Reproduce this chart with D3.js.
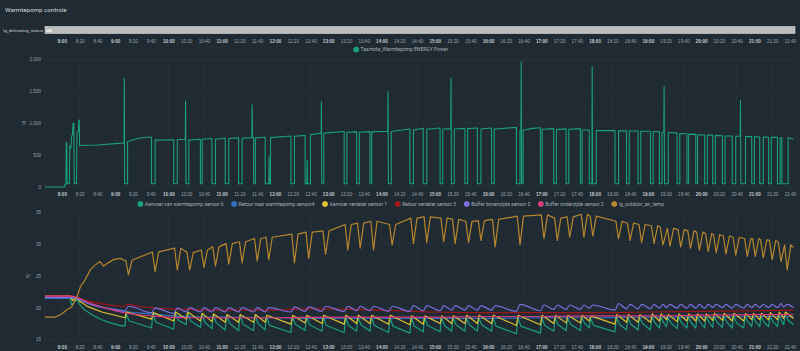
<!DOCTYPE html>
<html><head><meta charset="utf-8">
<script src="https://cdn.jsdelivr.net/npm/d3@7"></script>
<style>
body{margin:0;background:#1f2a32;}
svg{display:block;font-family:Roboto,"Noto Sans",sans-serif;}
</style></head>
<body><svg id="chart" width="800" height="351"></svg>
<script>
// ---------------- DATA ----------------
const timeTicks = ["8:00","8:20","8:40","9:00","9:20","9:40","10:00","10:20","10:40","11:00","11:20","11:40","12:00","12:20","12:40","13:00","13:20","13:40","14:00","14:20","14:40","15:00","15:20","15:40","16:00","16:20","16:40","17:00","17:20","17:40","18:00","18:20","18:40","19:00","19:20","19:40","20:00","20:20","20:40","21:00","21:20","21:40"];
const timeDomain = ["7:41","21:48"];
const powerTicks = [0,500,1000,1500,2000];
const tempTicks = [15,20,25,30,35];
const powerName = "Tasmota_Warmtepomp ENERGY Power";
const tempNames = ["Aanvoer van warmtepomp sensor 6","Retour naar warmtepomp sensor4","Aanvoer verdeler sensor 1","Retour verdeler sensor 3","Buffer bovenzijde sensor 5","Buffer onderzijde sensor 2","lg_outdoor_air_temp"];
const tempColors = ["#1a9f7f","#2f6fbd","#e0c02c","#a3151b","#7b6ee0","#d8397a","#b8862c"];

// power readings [time, W]
const power = [
["7:41",0],["8:03",0],["8:03.5",40],["8:04.5",40],["8:05",700],["8:05.5",700],["8:06",50],["8:08.5",50],["8:09",650],["8:10",600],["8:11",800],["8:12",820],["8:12.6",1000],["8:13.4",1000],["8:14",50],["8:16.5",50],["8:17",850],["8:18.6",870],["8:19",1050],["8:19.5",1050],["8:20",650],["8:40",660],["9:00",680],["9:10",690],["9:10.3",1700],["9:10.8",50],
["9:14",50],["9:14",710],["9:25",760],["9:35",780],["9:41",780],["9:41",50],["9:45",50],["9:45",735],["10:06",740],["10:06",50],["10:10",50],["10:10",745],["10:19",748],["10:19.3",1350],["10:19.8",50],["10:23",50],["10:23",735],["10:36",748],["10:36",50],["10:38",50],["10:38",750],["10:49",760],["10:49",50],["10:53",50],["10:53",750],["11:04",765],["11:04",50],["11:08",50],["11:08",760],["11:19",770],["11:19",50],["11:23",50],["11:23",765],["11:34",775],["11:34.3",1290],["11:34.8",775],["11:36",775],["11:36",50],["11:38",50],["11:38",770],["11:49",780],["11:49",50],["11:53",50],["11:53.3",475],["11:53.7",50],["11:55",50],["11:55",775],["12:18",800],["12:18",50],["12:22",50],["12:22",795],["12:34",810],["12:34",50],["12:36",50],["12:36.3",420],["12:36.7",50],["12:40",50],["12:40",820],["12:52",845],["12:52.3",1340],["12:52.7",50],["12:55",50],["12:55",845],["13:18",870],["13:18",50],["13:21",50],["13:21",860],["13:32",865],["13:32",50],["13:35",50],["13:35",860],["13:47",868],["13:47",50],["13:49",50],["13:49",865],["14:07",875],["14:07.3",1495],["14:07.8",50],["14:11",50],["14:11",870],["14:32",910],["14:32",50],["14:36",50],["14:36",895],["14:47",920],["14:47",50],["14:51",50],["14:51",905],["15:06",925],["15:06",50],["15:09",50],["15:09",910],["15:18",915],["15:18.3",1705],["15:18.8",50],["15:22",50],["15:22",910],["15:34",920],["15:34",50],["15:37",50],["15:37",915],["15:48",925],["15:48",50],["15:52",50],["15:52",910],["16:04",925],["16:04",50],["16:07",50],["16:07",910],["16:32",935],["16:32",50],["16:36",50],["16:36",880],["16:37",880],["16:37.3",1965],["16:37.8",50],["16:39.5",50],["16:39.5",890],["16:50",920],["16:59",930],["16:59",50],["17:01",50],["17:01",905],["17:14",915],["17:14",50],["17:17",50],["17:17",900],["17:28",912],["17:28",50],["17:31",50],["17:31",905],["17:44",915],["17:44",50],["17:46",50],["17:46",895],["17:54",895],["17:54",50],["17:57",50],["17:57.3",1890],["17:57.8",50],["18:02",50],["18:02",885],["18:23",885],["18:23",50],["18:27",50],["18:27",880],["18:36",880],["18:36",50],["18:39",50],["18:39",878],["18:49",878],["18:49",50],["18:52",50],["18:52",875],["19:03",875],["19:03",50],["19:06",50],["19:06",870],["19:13",865],["19:13",50],["19:16",50],["19:16",860],["19:18",860],["19:18.3",1575],["19:18.8",50],["19:23",50],["19:23",855],["19:33",845],["19:33",50],["19:36",50],["19:36",840],["19:44",835],["19:44",50],["19:46",50],["19:46",830],["19:54",825],["19:54",50],["19:56",50],["19:56",820],["20:04",815],["20:04",50],["20:07",50],["20:07",815],["20:13",810],["20:13",50],["20:16",50],["20:16",810],["20:24",805],["20:24",50],["20:27",50],["20:27",800],["20:35",800],["20:35",50],["20:39",50],["20:39",795],["20:44",795],["20:44.3",1355],["20:44.8",50],["20:50",50],["20:50",790],["20:57",790],["20:57",50],["21:00",50],["21:00",788],["21:06",785],["21:06",50],["21:10",50],["21:10",785],["21:16",780],["21:16",50],["21:19",50],["21:19",780],["21:26",778],["21:26",50],["21:29",50],["21:29",770],["21:31",770],["21:31",50],["21:38",50],["21:38",775],["21:44",750]
];

// temperature: times where the heat pump stops and the sensors jump
const cycleT = ["9:11","9:41","10:06","10:20","10:36","10:49","11:04","11:19","11:36","11:49","12:18","12:34","12:53","13:18","13:32","13:47","14:08","14:32","14:47","15:06","15:19","15:34","15:48","16:04","16:32","16:59","17:14","17:28","17:44","17:54","18:23","18:36","18:49","19:03","19:13","19:21","19:33","19:44","19:54","20:04","20:13","20:24","20:35","20:48","20:57","21:06","21:16","21:26","21:33"];

const greenPre = [["7:41",21.55],["8:09",21.55],["8:11",20.4],["8:14",20.8],["8:17",21.3],["8:20",20.5],["8:25",19.7],["8:35",18.8],["8:45",18.1],["8:55",17.6],["9:05",17.2]];
const greenLow = [17.1,16.8,16.6,17.3,16.9,16.7,16.5,16.4,16.4,16.5,16.1,16.4,16.3,16.1,16.3,16.3,16.1,16.0,16.2,16.2,16.3,16.3,16.3,16.3,15.9,16.0,16.3,16.4,16.4,16.8,16.2,16.5,16.5,16.5,16.8,17.0,16.7,16.8,16.8,16.8,16.9,16.9,16.8,16.8,17.0,17.0,17.0,17.0,17.3];
const greenPeak = [19.0,19.0,19.2,19.2,19.0,18.9,18.8,18.8,18.8,18.7,18.6,18.6,18.5,18.5,18.5,18.5,18.4,18.4,18.4,18.4,18.4,18.4,18.4,18.4,18.4,18.4,18.4,18.4,18.4,18.3,18.5,18.5,18.5,18.6,18.5,18.4,18.6,18.6,18.6,18.6,18.6,18.6,18.7,18.6,18.6,18.6,18.7,18.8,18.9];
const greenKnee = [17.9,17.7,18.0,17.9,17.7,17.6,17.5,17.4,17.5,17.2,17.4,17.3,17.2,17.2,17.3,17.2,17.1,17.1,17.2,17.2,17.3,17.3,17.3,17.1,17.1,17.2,17.3,17.4,17.5,17.2,17.4,17.4,17.5,17.6,17.6,17.6,17.6,17.6,17.7,17.7,17.7,17.7,17.6,17.7,17.7,17.7,17.8,17.8,18.0];
const greenEnd = [["21:44",17.3]];

const yellowPre = [["7:41",21.85],["8:09",21.85],["8:12",21.1],["8:17",21.6],["8:20",21.0],["8:30",20.1],["8:45",19.3],["9:00",18.8]];
const yellowLow = [18.4,18.2,17.9,18.2,17.9,17.8,17.7,17.7,17.7,17.7,17.4,17.6,17.5,17.4,17.5,17.5,17.4,17.3,17.4,17.5,17.5,17.5,17.5,17.5,17.2,17.3,17.5,17.6,17.6,17.9,17.4,17.7,17.7,17.7,17.9,18.1,17.8,17.9,17.9,17.9,18.0,18.0,17.9,17.9,18.1,18.1,18.1,18.1,18.3];
const yellowPeak = [19.3,19.2,19.3,19.3,19.1,19.0,18.9,18.9,18.9,18.8,18.8,18.8,18.8,18.8,18.8,18.8,18.8,18.7,18.7,18.7,18.7,18.8,18.8,18.8,18.8,18.8,18.8,18.8,18.8,18.7,18.9,18.9,18.9,19.0,19.0,18.9,19.0,19.0,19.0,19.0,19.1,19.1,19.1,19.1,19.1,19.1,19.2,19.3,19.3];
const yellowEnd = [["21:44",18.3]];

const purplePre = [["7:41",21.6],["8:10",21.6],["8:17",21.4],["8:30",20.6],["8:50",19.9],["9:05",19.6]];
const purpleLow = [19.5,19.2,19.1,19.3,19.3,19.3,19.3,19.3,19.3,19.3,19.3,19.4,19.4,19.4,19.5,19.5,19.4,19.4,19.5,19.5,19.6,19.6,19.6,19.6,19.4,19.5,19.7,19.7,19.7,19.9,19.6,19.8,19.8,19.8,19.9,20.0,19.9,19.9,19.9,19.9,20.0,20.0,19.9,19.9,20.0,20.0,20.0,20.0,20.1];
const purplePeak = [20.2,19.9,19.9,20.0,20.0,20.0,20.0,20.0,20.0,20.0,20.1,20.1,20.2,20.2,20.2,20.2,20.2,20.3,20.3,20.3,20.3,20.3,20.3,20.3,20.5,20.4,20.4,20.4,20.4,20.4,20.6,20.5,20.5,20.5,20.5,20.5,20.5,20.5,20.5,20.5,20.5,20.5,20.5,20.5,20.5,20.5,20.5,20.6,20.5];
const purpleEnd = [["21:44",20.0]];

const blueTemp = [["7:41",21.45],["8:10",21.45],["8:17",21.3],["8:30",20.7],["8:50",19.9],["9:10",19.4],["9:40",19.0],["10:20",18.6],["11:00",18.5],["12:00",18.4],["13:00",18.3],["14:00",18.3],["15:00",18.3],["16:00",18.3],["17:00",18.4],["18:00",18.4],["19:00",18.5],["20:00",18.5],["21:00",18.6],["21:44",18.6]];
const redTemp = [["7:41",21.8],["8:10",21.8],["8:17",21.5],["8:30",21.0],["8:50",20.5],["9:10",20.2],["9:15",20.5],["9:25",20.2],["9:40",20.0],["10:00",19.8],["10:20",19.7],["11:00",19.6],["12:00",19.6],["12:40",19.8],["13:30",19.7],["14:20",19.5],["15:00",19.3],["16:00",19.2],["17:00",19.2],["18:00",19.2],["19:00",19.3],["20:00",19.4],["21:00",19.5],["21:44",19.6]];
const pinkTemp = [["7:41",21.8],["8:10",21.8],["8:17",21.6],["8:30",20.8],["8:50",19.9],["9:10",19.2],["9:40",18.7],["10:20",18.4],["11:00",18.4],["12:00",18.4],["13:00",18.5],["14:00",18.5],["15:00",18.5],["16:00",18.6],["17:00",18.6],["18:00",18.7],["19:00",18.7],["20:00",18.8],["21:00",18.9],["21:44",18.9]];

const outdoorPre = [["7:41",18.5],["7:52",18.5],["7:57",18.8],["8:01",19.1],["8:05",19.6],["8:11",20.1],["8:14",20.9],["8:17",21.7],["8:21",23.3],["8:26",24.3],["8:32",25.9],["8:37",26.6],["8:43",27.2],["8:47",26.5],["8:51",26.9],["8:58",27.5],["9:06",27.7],["9:10",27.4]];
const outTop = [27.4,28.7,29.3,28.6,29.0,29.5,30.0,30.3,30.8,31.0,31.5,31.8,32.0,33.0,33.2,33.5,33.0,34.0,34.2,34.0,33.8,33.5,33.6,33.8,34.3,34.5,34.0,34.2,34.6,34.3,33.5,33.2,33.0,32.8,32.6,32.4,32.2,32.0,31.8,31.6,31.4,31.2,31.0,30.8,30.8,30.6,30.5,30.2,29.8];
const outBot = [25.1,25.6,25.9,25.9,26.3,26.5,26.8,27.0,27.3,27.5,27.0,27.7,28.3,29.0,29.3,29.0,29.8,30.0,30.2,30.3,30.0,30.2,30.5,29.5,29.8,30.8,30.5,31.0,31.0,31.2,30.8,30.5,30.2,30.0,29.8,29.6,29.5,29.3,29.0,28.8,28.6,28.4,28.2,28.0,28.0,27.8,27.5,27.2,25.9];
const outdoorEnd = [["21:44",29.4]];

// ---------------- DRAW ----------------
const toMin = s => { const p = s.split(":"); return +p[0]*60 + parseFloat(p[1]); };
const svg = d3.select("#chart");
const W = 800;
const L = 45, R = 797;
const x = d3.scaleLinear().domain(timeDomain.map(toMin)).range([L, R]);
const yP = d3.scaleLinear().domain([0,2000]).range([187,59.5]);
const yT = d3.scaleLinear().domain([15,35]).range([339.5,211.7]);
const nl = d3.formatLocale({decimal:",",thousands:".",grouping:[3],currency:["€",""]});
const fmtP = nl.format(",");
const textCol = "#9ba3aa", gridCol = "#2c3842";

svg.append("rect").attr("width",W).attr("height",351).attr("fill","#1f2a32");
svg.append("text").attr("x",5).attr("y",12).attr("fill","#d3d7db").attr("font-size",6.2).text("Warmtepomp controle");

// timeline
svg.append("text").attr("x",43).attr("y",31.6).attr("text-anchor","end").attr("fill","#c9cdd1").attr("font-size",4.4).text("lg_defrosting_status");
svg.append("rect").attr("x",L).attr("y",26.5).attr("width",795-L).attr("height",7).attr("fill","#bdbdbd").attr("stroke","#d6d6d6").attr("stroke-width",0.6);
svg.append("text").attr("x",46.5).attr("y",31.8).attr("fill","#ffffff").attr("font-size",4.2).attr("font-weight","bold").text("off");

function xAxis(yPos){
  const g = svg.append("g").attr("transform",`translate(0,${yPos})`);
  g.call(d3.axisBottom(x).tickValues(timeTicks.map(toMin)).tickSize(0).tickFormat((d,i)=>timeTicks[i]));
  g.select(".domain").remove();
  g.selectAll("text").attr("font-size",4.6).attr("dy","0.35em").attr("y",0)
    .attr("font-weight",(d,i)=>timeTicks[i].endsWith(":00")?"bold":"normal")
    .attr("fill",(d,i)=>timeTicks[i].endsWith(":00")?"#c4c9ce":textCol);
}
xAxis(41);

function grid(yScale, ticks, top, bottom){
  const g = svg.append("g");
  g.selectAll(".h").data(ticks).join("line").attr("x1",L).attr("x2",R)
    .attr("y1",d=>yScale(d)).attr("y2",d=>yScale(d)).attr("stroke",gridCol).attr("stroke-width",0.6);
  g.selectAll(".v").data(timeTicks.map(toMin)).join("line").attr("x1",d=>x(d)).attr("x2",d=>x(d))
    .attr("y1",top).attr("y2",bottom).attr("stroke",gridCol).attr("stroke-width",0.5);
  g.append("line").attr("x1",L).attr("x2",L).attr("y1",top).attr("y2",bottom).attr("stroke",gridCol).attr("stroke-width",0.6);
}
grid(yP, powerTicks, 59.5, 187);
grid(yT, tempTicks, 211.7, 339.5);

function yAxis(scale, ticks, fmt){
  const g = svg.append("g").attr("transform",`translate(${L},0)`);
  g.call(d3.axisLeft(scale).tickValues(ticks).tickSize(0).tickPadding(4).tickFormat(fmt));
  g.select(".domain").remove();
  g.selectAll("text").attr("fill",textCol).attr("font-size",4.6);
}
yAxis(yP, powerTicks, fmtP);
yAxis(yT, tempTicks, d=>d);
xAxis(194);
xAxis(347);

svg.append("text").attr("transform","translate(26,123) rotate(-90)").attr("text-anchor","middle").attr("fill",textCol).attr("font-size",4.6).text("W");
svg.append("text").attr("transform","translate(30,276) rotate(-90)").attr("text-anchor","middle").attr("fill",textCol).attr("font-size",4.6).text("°C");

// legends
function legend(items, colors, cy, center){
  const g = svg.append("g");
  let cx = 0;
  items.forEach((name,i)=>{
    g.append("circle").attr("cx",cx+2.6).attr("cy",cy).attr("r",2.6).attr("fill",colors[i]).attr("stroke",d3.color(colors[i]).brighter(0.6)).attr("stroke-width",0.5);
    const t = g.append("text").attr("x",cx+7).attr("y",cy+1.7).attr("fill","#a9b0b6").attr("font-size",5).text(name);
    cx += 7 + t.node().getComputedTextLength() + 8;
  });
  const bb = g.node().getBBox();
  g.attr("transform",`translate(${center - bb.width/2},0)`);
}
legend([powerName], [tempColors[0]], 49.5, 401);
legend(tempNames, tempColors, 204, 401);

// power line
const pLine = d3.line().x(d=>x(toMin(d[0]))).y(d=>yP(d[1]));
svg.append("path").datum(power).attr("d",pLine).attr("fill","none").attr("stroke",tempColors[0]).attr("stroke-width",1.1).attr("stroke-linejoin","round");

// temperature lines
const tLine = d3.line().x(d=>x(d[0])).y(d=>yT(d[1])).curve(d3.curveMonotoneX);
const tLin = d3.line().x(d=>x(d[0])).y(d=>yT(d[1]));
const conv = arr => arr.map(d=>[toMin(d[0]), d[1]]);
function sawtooth(pre, lows, peaks, knees, end, riseM, kneeM){
  const pts = conv(pre);
  cycleT.forEach((s,i)=>{
    const t = toMin(s), nxt = i+1<cycleT.length ? toMin(cycleT[i+1]) : toMin(end[0][0]);
    pts.push([t, lows[i]]);
    pts.push([t+riseM, peaks[i]]);
    if (knees && t+kneeM < nxt-1) pts.push([t+kneeM, knees[i]]);
  });
  return pts.concat(conv(end));
}
function outdoorSeries(){
  const pts = conv(outdoorPre);
  cycleT.forEach((s,i)=>{
    const t = toMin(s), nxt = i+1<cycleT.length ? toMin(cycleT[i+1]) : toMin(outdoorEnd[0][0]);
    pts.push([t+1, outTop[i]]);
    pts.push([t+4, outBot[i]]);
    if (t+8 < nxt) pts.push([t+8, outTop[i]]);
  });
  return pts.concat(conv(outdoorEnd));
}
const series = [
  {pts: sawtooth(greenPre, greenLow, greenPeak, greenKnee, greenEnd, 1.5, 5), c: tempColors[0], lin:true},
  {pts: conv(blueTemp), c: tempColors[1]},
  {pts: sawtooth(yellowPre, yellowLow, yellowPeak, null, yellowEnd, 2, 0), c: tempColors[2], lin:true},
  {pts: conv(redTemp), c: tempColors[3]},
  {pts: sawtooth(purplePre, purpleLow, purplePeak, null, purpleEnd, 4, 0), c: tempColors[4]},
  {pts: conv(pinkTemp), c: tempColors[5]},
  {pts: outdoorSeries(), c: tempColors[6], lin:true}
];
series.forEach(s=>{
  svg.append("path").datum(s.pts).attr("d", s.lin ? tLin : tLine).attr("fill","none")
    .attr("stroke",s.c).attr("stroke-width",1.2).attr("stroke-linejoin","round");
});
</script></body></html>
